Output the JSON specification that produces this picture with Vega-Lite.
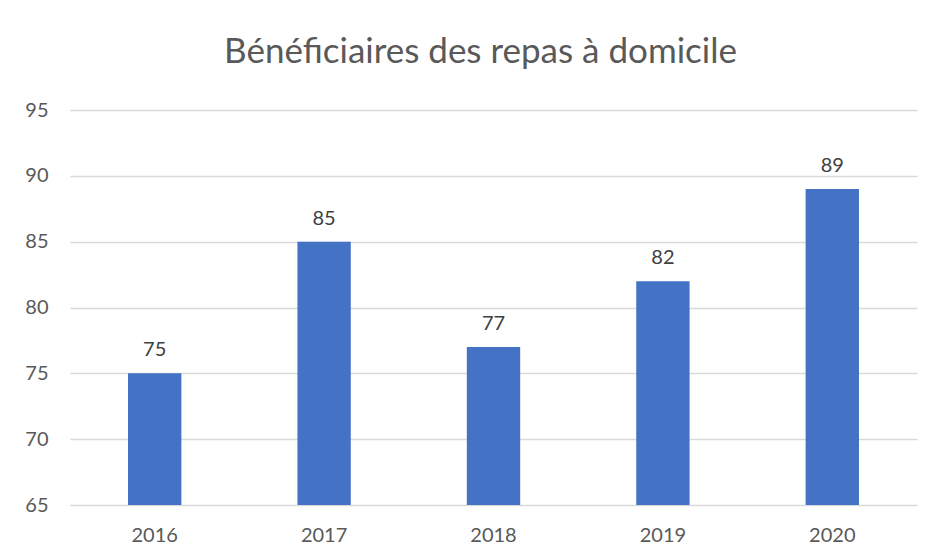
{
  "$schema": "https://vega.github.io/schema/vega-lite/v6.json",
  "autosize": "none",
  "width": 847,
  "height": 395,
  "padding": {"left": 70, "top": 110, "right": 15, "bottom": 53},
  "background": "white",
  "title": {
    "text": "Bénéficiaires des repas à domicile",
    "font": "Lato",
    "fontSize": 35,
    "fontWeight": "normal",
    "color": "#595959",
    "anchor": "middle",
    "baseline": "alphabetic",
    "offset": 2,
    "dx": -13
  },
  "data": {
    "values": [
      {"year": "2016", "value": 75},
      {"year": "2017", "value": 85},
      {"year": "2018", "value": 77},
      {"year": "2019", "value": 82},
      {"year": "2020", "value": 89}
    ]
  },
  "encoding": {
    "x": {
      "field": "year",
      "type": "ordinal",
      "scale": {"paddingInner": 0.685, "paddingOuter": 0.3425},
      "axis": {
        "title": null,
        "labelAngle": 0,
        "domain": false,
        "ticks": false,
        "labelFont": "Lato",
        "labelFontSize": 20,
        "labelColor": "#595959",
        "labelPadding": 20
      }
    },
    "y": {
      "field": "value",
      "type": "quantitative",
      "scale": {"domain": [65, 95], "zero": false, "nice": false},
      "axis": {
        "title": null,
        "values": [65, 70, 75, 80, 85, 90, 95],
        "domain": false,
        "ticks": false,
        "grid": true,
        "gridColor": "#d9d9d9",
        "gridWidth": 1.3,
        "labelFont": "Lato",
        "labelFontSize": 20,
        "labelColor": "#595959",
        "labelPadding": 22
      }
    }
  },
  "layer": [
    {"mark": {"type": "bar", "color": "#4472C4", "clip": true}},
    {
      "mark": {
        "type": "text",
        "baseline": "bottom",
        "dy": -13,
        "font": "Lato",
        "fontSize": 20,
        "color": "#404040"
      },
      "encoding": {"text": {"field": "value", "type": "quantitative"}}
    }
  ],
  "config": {"view": {"stroke": null}}
}
